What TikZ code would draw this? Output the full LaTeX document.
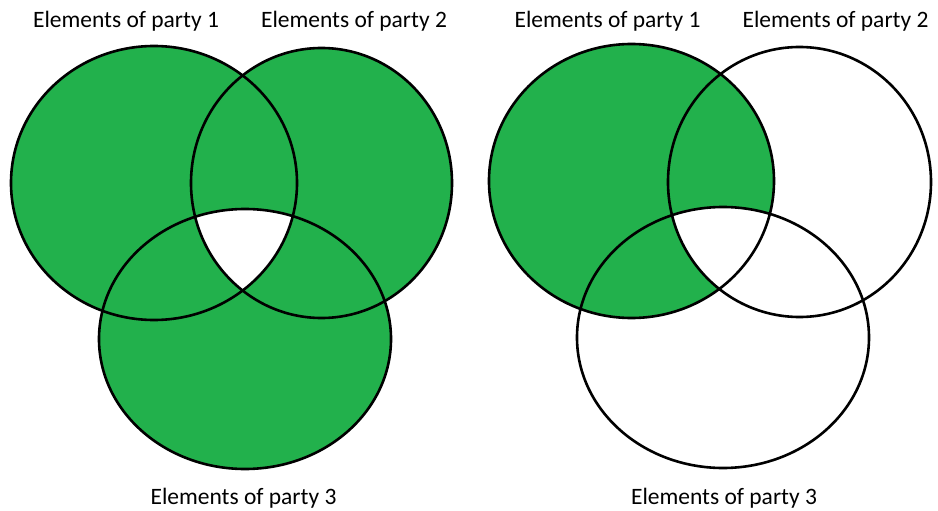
\documentclass[tikz,border=0pt]{standalone}
\usepackage{fontspec}
\setmainfont{Carlito}
\begin{document}
\begin{tikzpicture}[x=1pt,y=-1pt,
  ring/.style={draw=black,line width=2.6pt},
  setlabel/.style={font=\fontsize{23.5}{28}\selectfont,anchor=base,inner sep=0pt}]
\definecolor{paintgreen}{RGB}{34,177,76}
\useasboundingbox (0,0) rectangle (938,511);

% ---- left diagram: union of the three sets without the triple overlap ----
\fill[paintgreen] (154,183) ellipse [x radius=143,y radius=137];
\fill[paintgreen] (321.5,183) ellipse [x radius=130.5,y radius=135];
\fill[paintgreen] (245,339) ellipse [x radius=146,y radius=130];
\begin{scope}
  \clip (154,183) ellipse [x radius=143,y radius=137];
  \clip (321.5,183) ellipse [x radius=130.5,y radius=135];
  \fill[white] (245,339) ellipse [x radius=146,y radius=130];
\end{scope}
\draw[ring] (154,183) ellipse [x radius=143,y radius=137];
\draw[ring] (321.5,183) ellipse [x radius=130.5,y radius=135];
\draw[ring] (245,339) ellipse [x radius=146,y radius=130];

\node[setlabel] (la) at (126,28) {Elements of party 1};
\node[setlabel] (lb) at (354,28) {Elements of party 2};
\node[setlabel] (lc) at (243.5,504) {Elements of party 3};

% ---- right diagram: set 1 without the triple overlap ----
\fill[paintgreen] (631.5,181) ellipse [x radius=142.5,y radius=137];
\begin{scope}
  \clip (631.5,181) ellipse [x radius=142.5,y radius=137];
  \clip (799.5,182) ellipse [x radius=131.5,y radius=135];
  \fill[white] (723,337.5) ellipse [x radius=146,y radius=130.5];
\end{scope}
\draw[ring] (631.5,181) ellipse [x radius=142.5,y radius=137];
\draw[ring] (799.5,182) ellipse [x radius=131.5,y radius=135];
\draw[ring] (723,337.5) ellipse [x radius=146,y radius=130.5];

\node[setlabel] (ra) at (607.5,28) {Elements of party 1};
\node[setlabel] (rb) at (835.5,28) {Elements of party 2};
\node[setlabel] (rc) at (724,504) {Elements of party 3};
\end{tikzpicture}
\end{document}
